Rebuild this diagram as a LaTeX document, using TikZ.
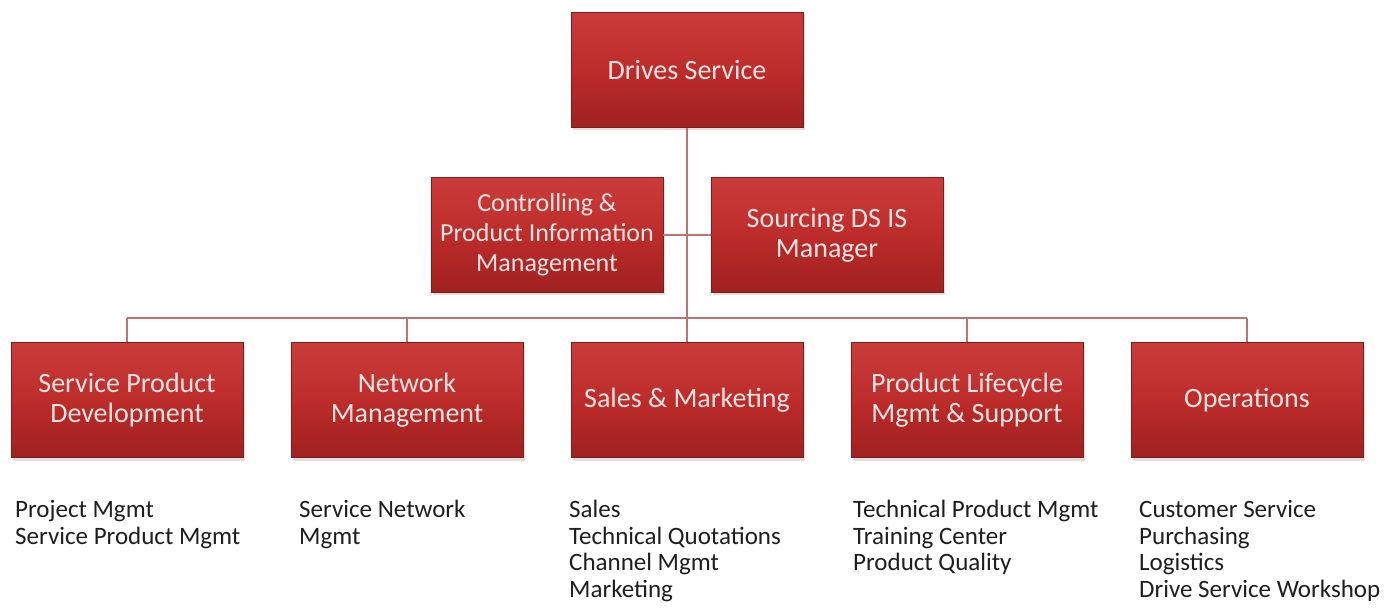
\documentclass[tikz,border=0pt]{standalone}
\usepackage{fontspec}
\setmainfont{Carlito}
\usepackage{xcolor}
\usetikzlibrary{calc,positioning,shadows}
\definecolor{dsRedTop}{RGB}{202,60,58}
\definecolor{dsRedMid}{RGB}{188,44,42}
\definecolor{dsRedBot}{RGB}{160,32,32}
\definecolor{dsRedEdge}{RGB}{130,26,26}
\definecolor{dsText}{RGB}{250,228,226}
\definecolor{dsLine}{RGB}{196,112,112}
\definecolor{dsList}{RGB}{30,30,30}
\tikzset{
  orgbox/.style={rectangle, draw=dsRedEdge, line width=0.6pt,
    top color=dsRedTop, bottom color=dsRedBot, middle color=dsRedMid,
    minimum width=232pt, minimum height=115pt, inner sep=2pt,
    text=dsText, align=center,
    font=\fontsize{28}{30}\selectfont,
    drop shadow={shadow xshift=2pt, shadow yshift=-3pt, opacity=0.25}},
  orglink/.style={dsLine, line width=2.4pt},
  tasklist/.style={anchor=north west, align=left, inner sep=0pt, text=dsList,
    font=\fontsize{25}{26.7}\selectfont}
}
\begin{document}
\begin{tikzpicture}[x=1pt,y=-1pt]
\useasboundingbox (0,0) rectangle (1395,612);
% top level
\node[orgbox] (drives) at (687,70) {Drives Service};
\node[orgbox, font=\fontsize{26}{30}\selectfont] (ctrl) at (547,235) {Controlling \&\\Product Information\\Management};
\node[orgbox] (src) at (827,235) {Sourcing DS IS\\Manager};
% departments
\node[orgbox] (spd) at (127,400) {Service Product\\Development};
\node[orgbox] (netm) at (407,400) {Network\\Management};
\node[orgbox] (sales) at (687,400) {Sales \& Marketing};
\node[orgbox] (plm) at (967,400) {Product Lifecycle\\Mgmt \& Support};
\node[orgbox] (ops) at (1247,400) {Operations};
% bus
\coordinate (hub) at (687,318);
\coordinate (busL) at (127,318);
\coordinate (busR) at (1247,318);
\draw[orglink] (drives.south) -- (sales.north);
\draw[orglink] (ctrl.east) -- (src.west);
\draw[orglink] (busL) -- (busR);
\foreach \d in {spd,netm,plm,ops}
  \draw[orglink] (\d.north) -- (\d.north |- hub);
% task lists
\node[tasklist] (spdlist) at (15,500) {Project Mgmt\\Service Product Mgmt};
\node[tasklist] (netmlist) at (299,500) {Service Network\\Mgmt};
\node[tasklist] (saleslist) at (569,500) {Sales\\Technical Quotations\\Channel Mgmt\\Marketing};
\node[tasklist] (plmlist) at (853,500) {Technical Product Mgmt\\Training Center\\Product Quality};
\node[tasklist] (opslist) at (1139,500) {Customer Service\\Purchasing\\Logistics\\Drive Service Workshop};
\end{tikzpicture}
\end{document}
